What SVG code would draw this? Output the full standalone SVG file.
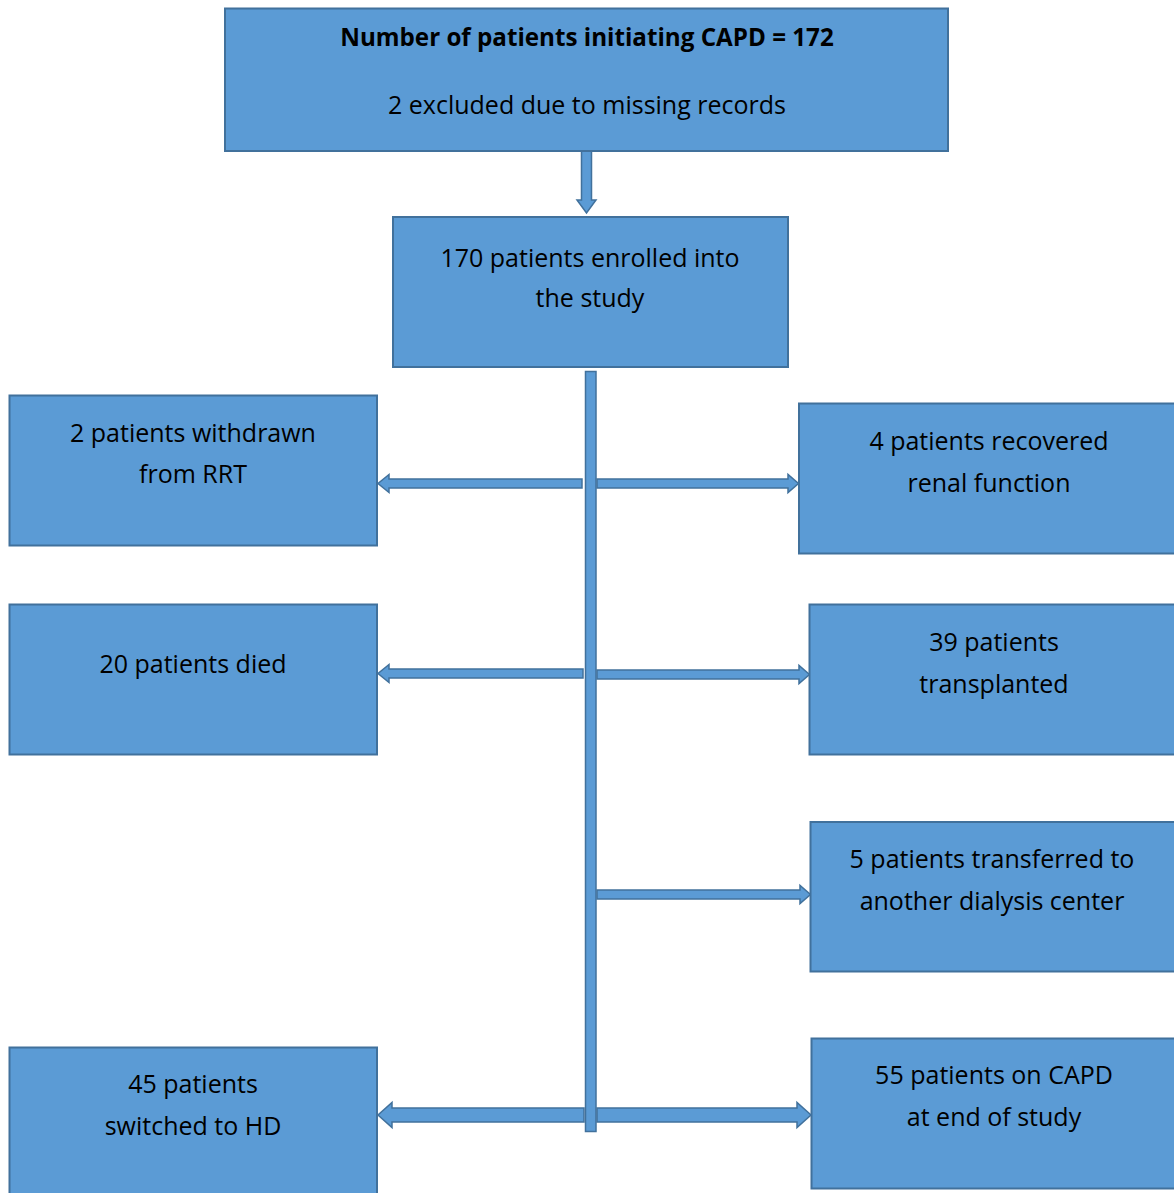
<svg xmlns="http://www.w3.org/2000/svg" width="1174" height="1193" viewBox="0 0 1174 1193">
<style>
.box{fill:#5B9BD5;stroke:#41719C;stroke-width:2}
.arr{fill:#5B9BD5;stroke:#41719C;stroke-width:1.5;stroke-linejoin:miter}
text{font-family:"Open Sans","Noto Sans",sans-serif;font-size:25px;fill:#000;text-anchor:middle}
.b{font-weight:bold;font-size:24.2px}
</style>
<rect width="1174" height="1193" fill="#fff"/>
<g id="connectors">
<polygon class="arr" points="581.5,151 591.5,151 591.5,200 596,200 586.5,213 577,200 581.5,200"/>
<rect class="arr" x="585.5" y="371.5" width="10.5" height="760"/>
<polygon class="arr" points="582,479 389,479 389,474.5 378,483.5 389,492.5 389,488 582,488"/>
<polygon class="arr" points="597,479 788,479 788,474.5 798.5,483.5 788,492.5 788,488 597,488"/>
<polygon class="arr" points="583,669 389,669 389,664.5 378,673.5 389,682.5 389,678 583,678"/>
<polygon class="arr" points="597,670 799,670 799,665.5 809.5,674.5 799,683.5 799,679 597,679"/>
<polygon class="arr" points="597,890 800,890 800,885.5 810.5,894.5 800,903.5 800,899 597,899"/>
<polygon class="arr" points="584,1108 392,1108 392,1102.5 378,1115 392,1127.5 392,1122 584,1122"/>
<polygon class="arr" points="597,1108 797,1108 797,1102.5 811,1115 797,1127.5 797,1122 597,1122"/>
</g>
<g id="n-start">
<rect class="box" x="225" y="8.5" width="723" height="142.5"/>
<text class="b" x="587" y="46">Number of patients initiating CAPD = 172</text>
<text x="587" y="114">2 excluded due to missing records</text>
</g>
<g id="n-enrolled">
<rect class="box" x="393" y="217" width="395" height="150"/>
<text x="590" y="267">170 patients enrolled into</text>
<text x="590" y="307">the study</text>
</g>
<g id="n-withdrawn">
<rect class="box" x="9.5" y="395.5" width="367.5" height="150"/>
<text x="193" y="442">2 patients withdrawn</text>
<text x="193" y="483">from RRT</text>
</g>
<g id="n-recovered">
<rect class="box" x="799" y="403.5" width="380" height="150"/>
<text x="989" y="450">4 patients recovered</text>
<text x="989" y="492">renal function</text>
</g>
<g id="n-died">
<rect class="box" x="9.5" y="604.5" width="367.5" height="150"/>
<text x="193" y="673">20 patients died</text>
</g>
<g id="n-transplanted">
<rect class="box" x="809.5" y="604.5" width="370" height="150"/>
<text x="994" y="651">39 patients</text>
<text x="994" y="693">transplanted</text>
</g>
<g id="n-transferred">
<rect class="box" x="810.5" y="822" width="370" height="149.5"/>
<text x="992" y="868">5 patients transferred to</text>
<text x="992" y="910">another dialysis center</text>
</g>
<g id="n-hd">
<rect class="box" x="9.5" y="1047.5" width="367.5" height="150"/>
<text x="193" y="1093">45 patients</text>
<text x="193" y="1135">switched to HD</text>
</g>
<g id="n-capd">
<rect class="box" x="811.5" y="1038.5" width="370" height="150"/>
<text x="994" y="1084">55 patients on CAPD</text>
<text x="994" y="1126">at end of study</text>
</g>
</svg>
